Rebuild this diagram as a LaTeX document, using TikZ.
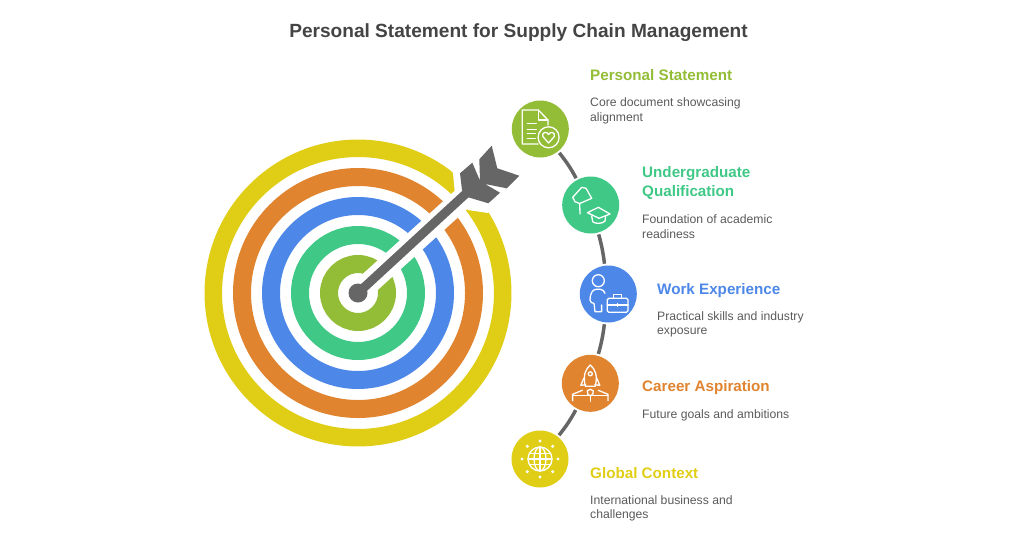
\documentclass[tikz,border=0pt]{standalone}
\usepackage{fontspec}
\setmainfont{Liberation Sans}
\usetikzlibrary{positioning}
\definecolor{limec}{HTML}{93BC37}
\definecolor{greenc}{HTML}{3FC886}
\definecolor{bluec}{HTML}{4D88E8}
\definecolor{orangec}{HTML}{E08430}
\definecolor{yellowc}{HTML}{E0CD15}
\definecolor{arrowc}{HTML}{666666}
\definecolor{titlec}{HTML}{444444}
\definecolor{bodyc}{HTML}{5A5A5A}

\begin{document}
\begin{tikzpicture}[x=1pt, y=-1pt,
    stepdot/.style={circle, minimum size=57pt, inner sep=0pt, outer sep=2pt},
    heading/.style={anchor=west, inner sep=0pt, align=left, font=\fontsize{15.2}{19.5}\selectfont\bfseries},
    bodytext/.style={anchor=west, inner sep=0pt, align=left, text=bodyc, font=\fontsize{12.2}{14.5}\selectfont},
    link/.style={draw=arrowc, line width=3.5pt},
    iconline/.style={draw=white, line width=1.3pt, line join=round, line cap=round}]
\useasboundingbox (0,0) rectangle (1024,536);

\node[anchor=center, inner sep=0pt, text=titlec, font=\fontsize{19.1}{22}\selectfont\bfseries] (title) at (518.5,33) {Personal Statement for Supply Chain Management};

\draw[yellowc, line width=17.5pt] (358,293) circle (144.7);
\fill[white] (443,160) -- (453,173) -- (455,195) -- (468,210) -- (488,213) -- (510,190) -- (480,150) -- cycle;
\draw[orangec, line width=18pt] (358,293) circle (116);
\draw[bluec, line width=18pt] (358,293) circle (87);
\draw[greenc, line width=18pt] (358,293) circle (58);
\draw[limec, line width=18pt] (358,293) circle (29);
\draw[white, line width=22pt] (358,293) -- (462,199);
\draw[arrowc, line width=9pt] (358,293) -- (472,188);
\fill[arrowc] (358,293) circle (9.5);
\fill[arrowc] (460,173.3) -- (472.3,162.7) -- (480,180.7) -- (479.3,159.3) -- (491.7,145.7) -- (497.3,168.3) -- (519.3,175.7) -- (506.7,188.3) -- (485,184) -- (500,192.7) -- (488.3,203.3) -- (468.3,197.3) -- (462,190) -- cycle;

\node[stepdot, fill=limec] (statement) at (540.3,129) {};
\node[stepdot, fill=greenc] (degree) at (590.7,205) {};
\node[stepdot, fill=bluec] (work) at (608.3,294) {};
\node[stepdot, fill=orangec] (career) at (590.3,383.3) {};
\node[stepdot, fill=yellowc] (context) at (540,459) {};

\draw[link] (statement) to[bend left=5] (degree);
\draw[link] (degree) to[bend left=4] (work);
\draw[link] (work) to[bend left=4] (career);
\draw[link] (career) to[bend left=5] (context);

\node[heading, text=limec] (statementhead) at (590,75) {Personal Statement};
\node[bodytext] (statementtext) at (590,111) {Core document showcasing\\alignment};
\node[heading, text=greenc] (degreehead) at (642,183) {Undergraduate\\Qualification};
\node[bodytext] (degreetext) at (642,226.5) {Foundation of academic\\readiness};
\node[heading, text=bluec] (workhead) at (657,291) {Work Experience};
\node[bodytext] (worktext) at (657,324.5) {Practical skills and industry\\exposure};
\node[heading, text=orangec] (careerhead) at (642,388) {Career Aspiration};
\node[bodytext] (careertext) at (642,415) {Future goals and ambitions};
\node[heading, text=yellowc] (contexthead) at (590,473) {Global Context};
\node[bodytext] (contexttext) at (590,508.5) {International business and\\challenges};

\begin{scope}[shift={(statement.center)}, iconline]
\draw (7.7,-4) -- (7.7,-9) -- (-2,-19) -- (-18,-19) -- (-18,15) -- (-2,15);
\draw (-2,-19) -- (-2,-9) -- (7.7,-9);
\draw (-13,-5.5) -- (-4,-5.5) (-13,0.5) -- (-4,0.5) (-13,4.5) -- (-5,4.5) (-13,9.5) -- (-5,9.5);
\draw (8.3,8.3) circle (10.5);
\draw (8.3,14) -- (2.5,7.5) .. controls (1,3) and (7,2) .. (8.3,5.5) .. controls (9.5,2) and (15.5,3) .. (14,7.5) -- cycle;
\end{scope}

\begin{scope}[shift={(degree.center)}, iconline]
\draw (-11,-1.5) -- (-15.7,-3.3) -- (-18,-7.7) -- (-9,-17.7) -- (-4.7,-16.7) -- (1,-6.7) -- cycle;
\draw (-11,-1.5) -- (-10.7,9);
\draw (-3.3,7.7) -- (7.7,2.3) -- (19.3,9) -- (8.3,13.3) -- cycle;
\draw (1,11) -- (2,16.7) .. controls (4,19) and (12,19) .. (14.3,16) -- (15,10.5);
\end{scope}

\begin{scope}[shift={(work.center)}, iconline]
\draw (-10,-13.3) circle (6);
\draw (-3.3,-0.7) .. controls (-4,-3) and (-6,-4.7) .. (-8,-4.7) -- (-12,-4.7) .. controls (-16,-4.7) and (-18.3,0) .. (-18.3,6) .. controls (-18.3,8.5) and (-16,9.5) .. (-14.3,9.3) -- (-13.3,17.7) -- (-6.7,17.7) -- (-6.7,11);
\draw[rounded corners=1.5pt] (-1,4.3) rectangle (19.7,18.3);
\draw (5,4.3) -- (5,0.3) -- (13.3,0.3) -- (13.3,4.3);
\draw (-1,11) -- (19.7,11) (9,9.5) -- (9,12.5);
\end{scope}

\begin{scope}[shift={(career.center)}, iconline]
\draw (0,-18.3) .. controls (-5,-14) and (-7.5,-8) .. (-5,3) -- (5,3) .. controls (7.5,-8) and (5,-14) .. (0,-18.3) -- cycle;
\draw (0,-9.5) circle (2);
\draw (-6.5,-5) -- (-9.5,2) -- (-4.5,1.5) (6.5,-5) -- (9.5,2) -- (4.5,1.5);
\draw (0,6) -- (-3,7.5) -- (-2.5,11) -- (0,12.5) -- (2.5,11) -- (3,7.5) -- cycle;
\draw (-17.7,17.5) -- (-17.7,11) -- (-8,7) (17.7,17.5) -- (17.7,11) -- (8,7);
\draw (-17.7,12.5) -- (17.7,12.5) (0,12.5) -- (0,18);
\end{scope}

\begin{scope}[shift={(context.center)}, iconline]
\draw (0,0) circle (12);
\draw (0,0) ellipse (6 and 12);
\draw (-12,0) -- (12,0) (0,-12) -- (0,12) (-10.5,-5.5) -- (10.5,-5.5) (-10.5,5.5) -- (10.5,5.5);
\fill[white] (18,0) circle (1.7) (-18,0) circle (1.7) (0,18) circle (1.7) (0,-18) circle (1.7) (12.7,12.7) circle (1.7) (-12.7,12.7) circle (1.7) (12.7,-12.7) circle (1.7) (-12.7,-12.7) circle (1.7);
\end{scope}
\end{tikzpicture}
\end{document}
